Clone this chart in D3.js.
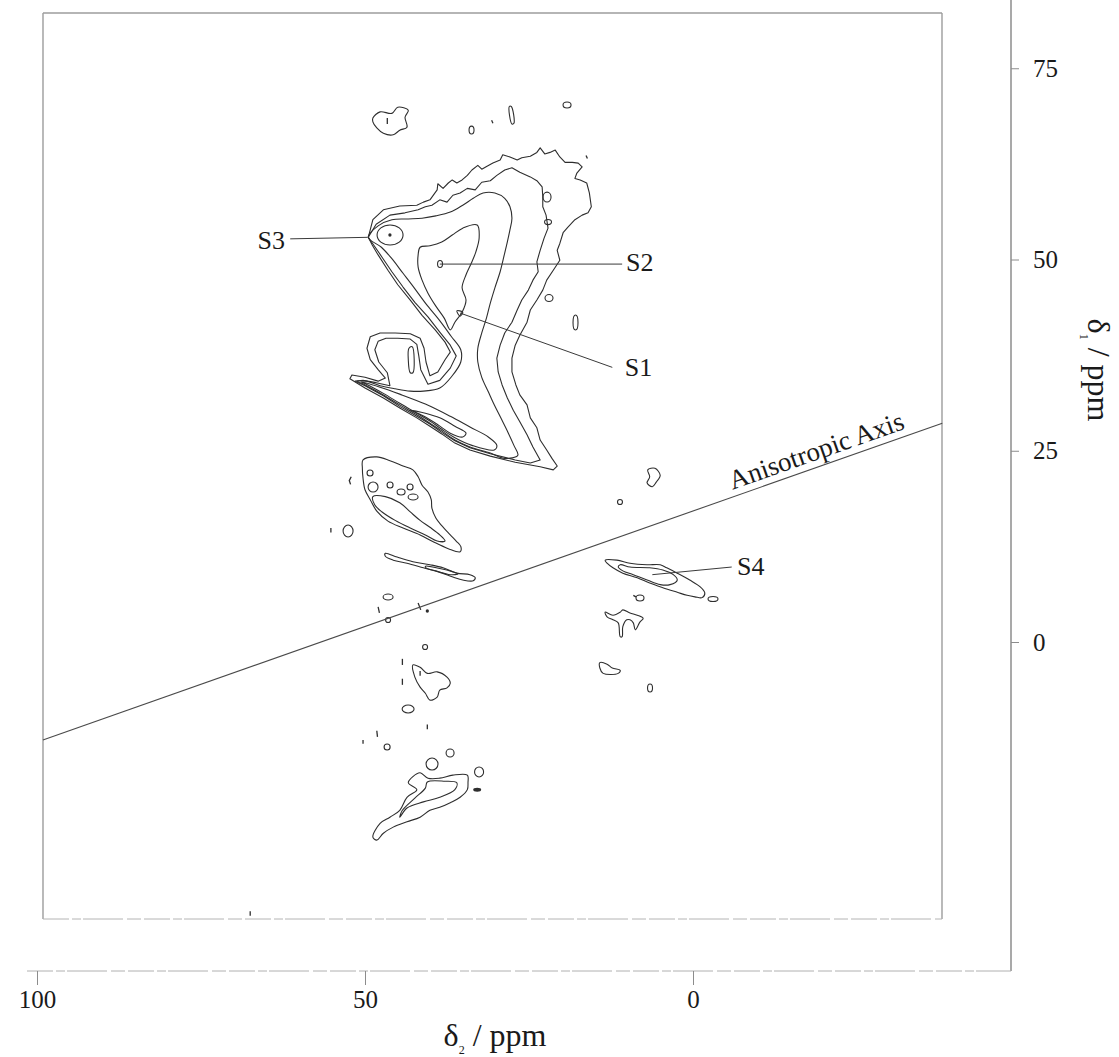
<!DOCTYPE html>
<html><head><meta charset="utf-8">
<script src="https://cdn.jsdelivr.net/npm/d3@7"></script>
<style>body{margin:0;background:#fff}svg{display:block}</style>
</head><body>
<svg id="chart" width="1119" height="1057"></svg>
<script>
// ---------- DATA (δ2 ppm, δ1 ppm) ----------
const xTicks = [100, 50, 0];
const yTicks = [75, 50, 25, 0];

const contourA1 = [[49.5,52.9],[48.8,55.2],[47.2,56.5],[44.7,57.0],[42.1,57.1],[41.1,57.5],[40.1,57.8],[39.0,59.1],[38.9,59.9],[38.1,59.3],[37.3,60.0],[36.7,60.4],[36.0,60.0],[35.2,60.4],[34.4,61.0],[33.7,61.7],[32.8,62.3],[32.2,61.8],[31.4,62.2],[30.5,62.6],[29.4,63.0],[29.0,63.7],[27.9,63.4],[26.8,63.0],[26.1,63.3],[24.8,63.5],[23.8,64.0],[23.3,64.6],[22.6,63.8],[21.8,64.0],[21.0,64.3],[20.3,63.4],[19.5,62.7],[18.4,62.7],[17.5,62.6],[16.9,62.1],[17.7,61.3],[18.0,60.6],[17.2,60.4],[16.2,60.0],[15.8,58.7],[15.5,56.9],[16.0,56.1],[16.9,55.8],[18.0,55.2],[19.1,54.2],[19.8,53.5],[20.3,52.1],[20.7,51.2],[20.3,49.9],[21.3,48.6],[22.3,47.3],[22.9,46.0],[23.8,44.7],[24.8,43.4],[25.3,41.8],[26.4,40.1],[27.1,38.8],[27.6,37.1],[27.6,35.3],[27.0,33.6],[26.4,32.3],[25.3,31.0],[24.8,29.3],[23.8,28.0],[23.3,26.4],[22.3,25.1],[21.5,24.0],[20.7,23.0],[21.3,22.5],[23.3,22.9],[27.1,23.5],[30.9,24.3],[34.0,25.1],[36.3,26.0],[38.3,27.2],[40.1,28.2],[42.1,29.3],[44.7,30.6],[47.2,31.9],[50.0,33.2],[52.3,34.4],[52.0,34.9],[50.0,34.6],[48.0,34.1],[46.9,34.5],[48.0,35.6],[49.2,36.9],[49.7,38.4],[49.2,39.9],[47.7,40.4],[45.4,40.4],[43.1,40.3],[41.6,39.7],[41.0,38.4],[40.7,36.6],[40.1,34.8],[38.9,35.3],[37.8,36.9],[37.0,37.9],[37.8,39.2],[39.3,40.8],[41.3,42.7],[43.1,44.7],[45.0,46.7],[46.5,48.6],[48.0,50.6],[48.9,51.9]];

const contourA2 = [[49.5,52.9],[48.3,54.6],[46.2,55.8],[43.9,56.1],[41.9,56.5],[40.8,56.9],[39.8,57.1],[38.6,57.8],[37.5,57.5],[36.6,58.4],[35.5,58.7],[34.4,59.3],[33.2,59.1],[32.2,60.1],[30.9,60.3],[29.9,61.0],[28.7,61.7],[27.6,62.0],[26.4,61.4],[24.8,60.8],[23.8,60.3],[23.0,59.5],[22.9,58.2],[22.9,56.9],[22.4,55.8],[22.1,54.1],[22.7,52.8],[23.3,51.2],[23.8,49.7],[23.6,48.4],[24.4,47.3],[25.1,46.0],[26.1,44.7],[26.8,43.4],[27.6,41.8],[28.7,40.4],[29.4,38.8],[29.9,37.1],[29.7,35.3],[29.1,33.6],[28.3,31.9],[27.4,30.3],[26.4,28.8],[25.3,27.1],[24.4,25.5],[23.3,23.8],[24.8,23.4],[27.1,23.8],[30.9,24.6],[34.0,25.4],[36.3,26.3],[38.3,27.4],[40.1,28.5],[42.1,29.5],[44.7,30.8],[47.2,32.2],[50.0,33.5],[51.5,34.1],[50.3,34.2],[48.3,33.9],[46.2,33.5],[46.6,35.2],[47.9,36.6],[48.5,38.2],[48.0,39.3],[46.8,39.7],[45.0,39.7],[43.1,39.6],[42.1,38.9],[41.8,37.4],[41.5,35.6],[40.4,33.7],[38.6,34.2],[37.0,35.8],[36.1,37.4],[37.0,38.8],[38.6,40.5],[40.4,42.5],[42.4,44.4],[44.2,46.4],[45.9,48.4],[47.4,50.3],[48.6,51.8]];

const contourA3 = [[49.5,52.9],[48.0,54.4],[45.9,55.2],[43.4,55.3],[41.3,55.4],[39.2,55.7],[37.0,56.2],[35.1,57.1],[33.5,58.0],[32.0,58.7],[30.2,58.7],[28.7,58.0],[27.9,56.9],[27.6,55.4],[27.9,53.9],[28.3,52.3],[28.8,50.5],[29.4,48.4],[30.2,46.3],[30.9,44.3],[31.5,42.3],[32.2,40.4],[32.8,38.4],[32.8,36.6],[32.2,34.6],[31.2,32.7],[30.3,31.0],[29.3,29.3],[28.2,27.4],[27.3,25.7],[26.7,24.4],[28.7,24.0],[30.9,24.7],[34.0,25.5],[36.3,26.4],[38.3,27.6],[40.1,28.6],[42.1,29.7],[44.7,31.0],[47.2,32.3],[50.0,33.6],[51.2,34.1],[49.8,34.1],[47.7,33.5],[45.4,33.1],[43.1,32.8],[41.1,32.8],[38.6,33.2],[36.7,34.8],[35.4,36.6],[35.4,38.2],[36.9,40.0],[38.7,42.1],[40.7,44.2],[42.5,46.3],[44.2,48.2],[46.0,50.2],[47.5,51.6]];

const contourA4 = [[41.9,50.6],[41.6,51.6],[40.1,51.8],[38.3,52.3],[36.7,53.2],[35.1,54.1],[32.9,54.5],[32.6,52.8],[33.1,51.0],[33.8,49.5],[34.6,48.0],[35.2,46.3],[34.6,44.7],[35.2,43.1],[36.3,41.8],[37.0,40.8],[37.9,42.3],[39.2,43.9],[40.4,45.6],[41.3,47.3],[41.9,49.0]];

const contourRidge1 = [[50.6,34.0],[47.7,33.3],[44.7,32.4],[40.8,31.1],[37.0,29.5],[34.0,28.1],[31.2,26.8],[29.9,25.7],[30.3,25.1],[33.7,25.7],[36.3,26.7],[38.3,27.8],[40.1,28.9],[42.1,29.9],[44.7,31.2],[47.2,32.5],[49.8,33.7]];
const contourRidge2 = [[43.1,30.3],[40.8,29.9],[38.6,29.3],[36.3,28.2],[34.6,27.3],[35.1,26.8],[37.0,27.3],[38.9,28.4],[41.0,29.5],[42.8,30.2]];
const contourLobeRing = [[43.3,38.4],[42.8,38.6],[42.5,36.9],[42.7,35.2],[43.1,35.2],[43.4,36.9]];

const contourTopBlob = [[48.8,68.5],[47.7,69.3],[45.9,69.1],[45.0,69.9],[43.4,69.5],[43.9,68.6],[43.6,67.3],[44.7,66.9],[45.7,66.3],[47.2,66.5],[48.2,67.2],[48.8,68.0]];
const contourTopThin = [[28.0,70.0],[27.7,70.0],[27.3,67.8],[27.6,67.7]];
const contourS1Mark = [[36.0,43.3],[35.1,43.1],[35.5,42.6]];

const contourBOuter = [[50.3,23.8],[48.2,24.2],[46.2,23.7],[44.2,23.0],[42.7,22.5],[41.9,21.6],[41.3,20.5],[40.4,19.6],[39.9,18.6],[39.8,17.5],[39.2,16.2],[38.3,15.2],[37.0,14.0],[36.1,13.2],[35.4,12.5],[35.5,11.8],[37.3,12.2],[39.6,13.1],[41.6,14.0],[44.2,14.9],[46.5,15.8],[48.2,17.1],[49.2,18.6],[50.0,19.9],[50.3,21.4],[50.4,22.7]];
const contourBInner = [[48.8,19.0],[46.9,19.0],[44.7,18.2],[43.1,17.0],[41.6,15.9],[40.1,15.0],[38.6,14.0],[37.8,13.2],[39.0,13.2],[40.8,14.0],[43.1,14.9],[45.4,15.9],[47.4,17.0],[48.5,17.9]];
const contourCOuter = [[46.9,11.6],[45.1,11.1],[42.7,10.5],[40.1,10.1],[38.1,9.7],[36.0,9.0],[34.0,8.8],[33.2,8.4],[33.5,8.0],[35.1,8.1],[36.6,8.5],[38.6,9.1],[41.1,9.7],[43.6,10.3],[45.7,10.7],[46.9,11.2]];
const contourCInner = [[40.8,9.9],[38.6,9.6],[36.7,9.2],[35.8,8.9],[37.0,8.8],[39.2,9.3],[40.7,9.7]];
const contourG = [[42.7,-3.0],[41.6,-3.3],[40.5,-4.1],[39.0,-3.9],[37.5,-4.6],[37.0,-5.4],[37.5,-6.0],[38.6,-6.3],[39.0,-7.2],[40.1,-7.6],[40.8,-6.7],[41.6,-5.9],[42.4,-4.6]];
const contourHOuter = [[48.8,-25.5],[47.7,-23.7],[46.2,-22.9],[44.7,-22.0],[43.6,-20.3],[42.1,-19.3],[43.4,-18.4],[42.7,-17.6],[41.6,-17.1],[40.4,-17.8],[38.6,-17.8],[36.6,-17.4],[34.4,-17.4],[34.3,-18.4],[34.4,-19.3],[35.5,-20.3],[37.0,-21.0],[38.6,-21.6],[40.1,-22.0],[41.6,-22.9],[43.6,-23.5],[45.7,-24.2],[47.2,-25.0],[48.2,-25.9]];
const contourHInner = [[40.5,-18.3],[37.8,-18.2],[36.0,-18.4],[36.3,-19.3],[38.6,-20.3],[41.1,-20.9],[43.6,-21.7],[44.7,-22.9],[44.3,-22.0],[42.4,-20.4],[40.8,-19.1]];
const contourS4Outer = [[13.4,10.7],[11.6,10.7],[9.6,10.3],[7.0,10.1],[5.0,10.1],[4.0,9.7],[2.4,9.0],[0.5,8.1],[-1.1,7.2],[-1.8,6.4],[-1.4,5.8],[-0.3,5.9],[0.9,6.1],[2.4,6.5],[4.6,7.1],[6.6,7.7],[8.5,8.4],[10.7,9.0],[12.2,9.7],[13.1,10.3]];
const contourS4Inner = [[11.1,10.1],[9.6,9.8],[6.6,9.7],[4.6,9.4],[3.0,8.8],[2.4,8.1],[3.5,7.5],[5.0,7.5],[7.0,8.1],[9.1,8.8],[10.7,9.3],[11.4,9.8]];
const contourT = [[13.4,3.9],[12.2,3.5],[11.1,3.9],[10.7,4.2],[9.6,3.8],[8.5,3.5],[7.6,3.1],[8.1,2.6],[8.8,1.6],[9.1,2.5],[9.6,2.9],[10.1,2.9],[10.7,2.0],[10.8,0.7],[11.1,0.7],[11.4,2.5],[12.2,2.9],[13.1,3.3]];
const contourSmallRight = [[6.9,22.5],[5.8,22.7],[5.0,21.8],[5.6,20.9],[6.2,20.3],[7.0,20.8],[6.6,21.6]];
const contourFlat = [[14.2,-2.7],[13.1,-2.9],[12.3,-3.4],[11.1,-3.7],[11.4,-4.1],[13.7,-4.1],[14.2,-3.4]];

// jagged (low-level) contours drawn with straight segments, the rest smoothed
const jaggedContours = [contourA1, contourA2];
const smoothContours = [contourA3, contourA4, contourRidge1, contourRidge2, contourLobeRing,
  contourTopBlob, contourTopThin, contourS1Mark, contourBOuter, contourBInner, contourCOuter, contourCInner,
  contourG, contourHOuter, contourHInner, contourS4Outer, contourS4Inner, contourT, contourSmallRight, contourFlat];

// small closed rings: [δ2, δ1, half-width ppm, half-height ppm]
const rings = [[22.25,58.16,0.61,0.65],[22.10,54.89,0.53,0.33],[21.95,44.96,0.61,0.46],[17.91,41.76,0.38,0.98],
  [33.76,66.92,0.38,0.52],[19.20,70.19,0.61,0.39],[46.18,53.20,1.98,1.31],[38.56,49.41,0.38,0.46],
  [52.58,14.51,0.76,0.78],[46.48,5.88,0.76,0.39],[46.48,2.88,0.38,0.33],[40.84,-0.65,0.38,0.33],
  [43.43,-8.76,0.91,0.52],[46.63,-13.72,0.46,0.39],[37.03,-14.51,0.61,0.52],[39.78,-15.95,0.91,0.78],
  [32.61,-16.99,0.69,0.65],[8.08,5.75,0.61,0.39],[-3.05,5.62,0.76,0.33],[6.55,-6.01,0.38,0.52],
  [11.13,18.30,0.38,0.33],[49.23,22.09,0.46,0.39],[48.77,20.26,0.76,0.65],[46.18,20.52,0.46,0.39],
  [44.50,19.61,0.61,0.39],[43.13,20.26,0.46,0.39],[42.67,18.95,0.76,0.39]];

// tiny open contour fragments
const fragments = [[[46.6,68.5],[46.6,67.7]],[[30.7,68.2],[30.5,67.8]],[[16.3,63.6],[16.1,63.2]],
  [[52.1,21.6],[52.4,21.1],[52.2,20.6]],[[55.2,14.9],[55.2,14.3]],[[48.0,4.6],[47.8,3.8]],
  [[41.9,5.1],[41.5,4.2]],[[44.3,-2.2],[44.3,-3.0]],[[44.3,-4.8],[44.3,-5.6]],[[40.5,-10.8],[40.5,-11.4]],
  [[48.2,-11.6],[48.1,-12.4]],[[50.3,-12.8],[50.3,-13.3]],[[9.1,6.1],[8.7,5.9]],[[67.5,-35.2],[67.5,-35.8]],
  [[41.6,-3.8],[41.6,-4.4]]];
// filled dots: [δ2, δ1, half-width, half-height]
const dots = [[46.2,53.2,0.25,0.22],[40.5,4.05,0.25,0.22],[32.9,-19.3,0.61,0.26]];

// peak labels
const peakNames = ["S1", "S2", "S3", "S4"];
const peakPoints = [[35.5,43.0],[38.6,49.4],[49.6,52.9],[6.2,8.8]];
const leaderEnds = [[12.3,35.9],[10.8,49.4],[61.4,52.7],[-5.9,9.8]];
const labelPoints = [[10.4,34.8],[10.2,48.5],[62.2,51.4],[-6.7,8.8]];
const labelAnchors = ["start", "start", "end", "start"];

const anisoAxis = [[99.1,-12.8],[-38.0,28.6]];
const anisoLabelEnd = -32.8;

// ---------- LAYOUT ----------
const serif = "'Liberation Serif','Times New Roman',Times,serif";
const svg = d3.select("#chart");
const x = d3.scaleLinear().domain([100, 0]).range([37, 693]);
const y = d3.scaleLinear().domain([0, 75]).range([642, 68.25]);
const frame = {x0: 43, y0: 13, x1: 942, y1: 919};
const outer = {x0: 27, y0: 0, x1: 1011, y1: 971};
const dash = "26,3,9,2,40,4,14,3";

svg.append("line").attr("x1", frame.x0).attr("x2", frame.x1).attr("y1", frame.y0).attr("y2", frame.y0).attr("stroke", "#9c9c9c").attr("stroke-width", 1.4);
svg.append("line").attr("x1", frame.x0).attr("x2", frame.x0).attr("y1", frame.y0).attr("y2", frame.y1).attr("stroke", "#9c9c9c").attr("stroke-width", 1.4);
svg.append("line").attr("x1", frame.x1).attr("x2", frame.x1).attr("y1", frame.y0).attr("y2", frame.y1).attr("stroke", "#9c9c9c").attr("stroke-width", 1.4);
svg.append("line").attr("x1", frame.x0).attr("x2", frame.x1).attr("y1", frame.y1).attr("y2", frame.y1).attr("stroke", "#b4b4b4").attr("stroke-width", 1).attr("stroke-dasharray", dash);
svg.append("line").attr("x1", outer.x1).attr("x2", outer.x1).attr("y1", outer.y0).attr("y2", outer.y1).attr("stroke", "#8c8c8c").attr("stroke-width", 1.5);
svg.append("line").attr("x1", outer.x0).attr("x2", outer.x1).attr("y1", outer.y1).attr("y2", outer.y1).attr("stroke", "#b0b0b0").attr("stroke-width", 1).attr("stroke-dasharray", dash);

const gx = svg.append("g").attr("transform", `translate(0,${outer.y1})`)
  .call(d3.axisBottom(x).tickValues(xTicks).tickSize(14).tickPadding(5).tickSizeOuter(0).tickFormat(d3.format("d")));
gx.select(".domain").remove();
gx.attr("font-family", serif).attr("font-size", 25);
gx.selectAll("line").attr("stroke", "#8c8c8c");
gx.selectAll("text").attr("fill", "#1a1a1a");

const gy = svg.append("g").attr("transform", `translate(${outer.x1},0)`)
  .call(d3.axisRight(y).tickValues(yTicks).tickSize(8).tickPadding(14).tickSizeOuter(0).tickFormat(d3.format("d")));
gy.select(".domain").remove();
gy.attr("font-family", serif).attr("font-size", 25);
gy.selectAll("line").attr("stroke", "#8c8c8c");
gy.selectAll("text").attr("fill", "#1a1a1a");

const tx = svg.append("text").attr("x", 495).attr("y", 1046).attr("text-anchor", "middle")
  .attr("font-family", serif).attr("font-size", 32).attr("fill", "#1a1a1a");
tx.append("tspan").text("δ");
tx.append("tspan").attr("font-size", 12).attr("dy", 8).text("2");
tx.append("tspan").attr("dy", -8).text(" / ppm");

const ty = svg.append("text").attr("transform", "translate(1088,370) rotate(90)").attr("text-anchor", "middle")
  .attr("font-family", serif).attr("font-size", 32).attr("fill", "#1a1a1a");
ty.append("tspan").text("δ");
ty.append("tspan").attr("font-size", 12).attr("dy", 8).text("1");
ty.append("tspan").attr("dy", -8).text(" / ppm");

const g = svg.append("g");
const smooth = d3.line().x(d => x(d[0])).y(d => y(d[1])).curve(d3.curveCatmullRomClosed.alpha(0.5));
const jagged = d3.line().x(d => x(d[0])).y(d => y(d[1])).curve(d3.curveLinearClosed);
const open = d3.line().x(d => x(d[0])).y(d => y(d[1]));
const ink = "#2e2e2e";

g.selectAll("path.jag").data(jaggedContours).join("path").attr("class", "jag")
  .attr("d", jagged).attr("fill", "none").attr("stroke", ink).attr("stroke-width", 1.1).attr("stroke-linejoin", "round");
g.selectAll("path.smooth").data(smoothContours).join("path").attr("class", "smooth")
  .attr("d", smooth).attr("fill", "none").attr("stroke", ink).attr("stroke-width", 1.1).attr("stroke-linejoin", "round");

g.selectAll("ellipse.ring").data(rings).join("ellipse").attr("class", "ring")
  .attr("cx", d => x(d[0])).attr("cy", d => y(d[1]))
  .attr("rx", d => Math.abs(x(d[0] + d[2]) - x(d[0]))).attr("ry", d => Math.abs(y(d[1] + d[3]) - y(d[1])))
  .attr("fill", "none").attr("stroke", ink).attr("stroke-width", 1.1);

g.selectAll("path.frag").data(fragments).join("path").attr("class", "frag")
  .attr("d", open).attr("fill", "none").attr("stroke", ink).attr("stroke-width", 1.3);

g.selectAll("ellipse.dot").data(dots).join("ellipse").attr("class", "dot")
  .attr("cx", d => x(d[0])).attr("cy", d => y(d[1]))
  .attr("rx", d => Math.abs(x(d[0] + d[2]) - x(d[0]))).attr("ry", d => Math.abs(y(d[1] + d[3]) - y(d[1])))
  .attr("fill", ink);

g.append("path").datum(anisoAxis).attr("d", open).attr("fill", "none").attr("stroke", "#4a4a4a").attr("stroke-width", 1.1);
const p0 = anisoAxis[0], p1 = anisoAxis[1];
const ang = Math.atan2(y(p1[1]) - y(p0[1]), x(p1[0]) - x(p0[0])) * 180 / Math.PI;
const t = (anisoLabelEnd - p0[0]) / (p1[0] - p0[0]);
const labY = p0[1] + t * (p1[1] - p0[1]);
g.append("text").attr("transform", `translate(${x(anisoLabelEnd)},${y(labY)}) rotate(${ang})`)
  .attr("y", -7).attr("text-anchor", "end").attr("font-family", serif).attr("font-size", 27).attr("fill", "#1a1a1a")
  .text("Anisotropic Axis");

g.selectAll("line.leader").data(peakNames).join("line").attr("class", "leader")
  .attr("x1", (d, i) => x(peakPoints[i][0])).attr("y1", (d, i) => y(peakPoints[i][1]))
  .attr("x2", (d, i) => x(leaderEnds[i][0])).attr("y2", (d, i) => y(leaderEnds[i][1]))
  .attr("stroke", "#3a3a3a").attr("stroke-width", 1);
g.selectAll("text.peak").data(peakNames).join("text").attr("class", "peak")
  .attr("x", (d, i) => x(labelPoints[i][0])).attr("y", (d, i) => y(labelPoints[i][1]))
  .attr("text-anchor", (d, i) => labelAnchors[i])
  .attr("font-family", serif).attr("font-size", 26).attr("fill", "#1a1a1a").text(d => d);
</script>
</body></html>
